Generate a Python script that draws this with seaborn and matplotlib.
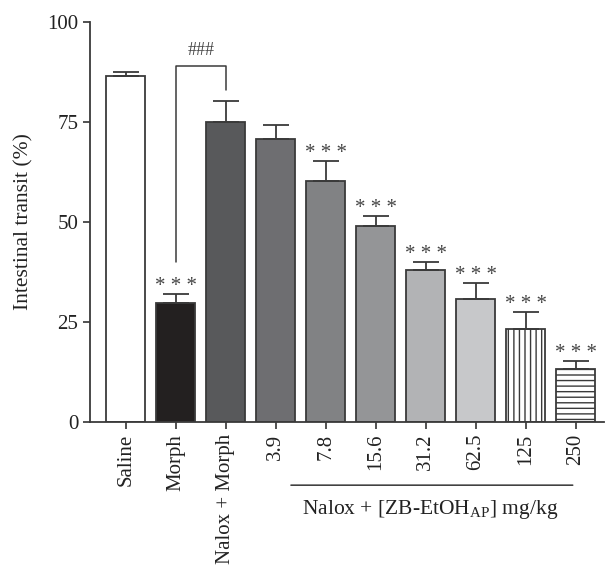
import pandas as pd
import numpy as np
import matplotlib.pyplot as plt
import seaborn as sns

sns.set_style('ticks')
plt.rcParams['font.family'] = ['Liberation Serif', 'DejaVu Serif']
plt.rcParams['hatch.linewidth'] = 1.0
plt.rcParams['mathtext.fontset'] = 'custom'
plt.rcParams['mathtext.rm'] = 'Liberation Serif'

groups = ['Saline', 'Morph', 'Nalox + Morph', '3.9', '7.8', '15.6', '31.2', '62.5', '125', '250']
transit = [86.5, 29.8, 75.1, 70.8, 60.2, 48.9, 37.9, 30.8, 23.2, 13.3]
sem = [1.1, 2.3, 5.1, 3.4, 5.0, 2.7, 2.0, 4.0, 4.2, 1.9]
stars = ['', '***', '', '', '***', '***', '***', '***', '***', '***']
colors = ['#ffffff', '#231f20', '#58595b', '#6d6e71', '#808285', '#939598',
          '#b1b3b6', '#c7c8ca', '#ffffff', '#ffffff']
hatches = [None, None, None, None, None, None, None, None, '|||', '---']

df = pd.DataFrame({'group': groups, 'transit': transit})

fig = plt.figure(figsize=(6.05, 5.71), dpi=100)
ax = fig.add_axes([0.1488, 0.261, 0.8496, 0.7005])

edge = '#3a3a3a'
sns.barplot(data=df, x='group', y='transit', hue='group', palette=colors,
            edgecolor=edge, linewidth=1.3, width=0.77, legend=False, ax=ax)
for p, h in zip(ax.patches, hatches):
    if h:
        p.set_hatch(h)

xs = np.arange(len(groups))
ax.errorbar(xs, transit, yerr=[np.zeros(len(sem)), sem], fmt='none',
            ecolor=edge, elinewidth=1.3, capsize=9.5, capthick=1.3)

for x, v, e, s in zip(xs, transit, sem, stars):
    if s:
        ax.text(x, v + e - 0.5, '* * *', ha='center', va='bottom', fontsize=15,
                color='#444444')

# ### bracket between Morph and Nalox + Morph
ax.plot([1, 1, 2, 2], [40, 89, 89, 83], color=edge, lw=1.1, clip_on=False)
ax.text(1.5, 90.8, '###', ha='center', va='bottom', fontsize=13, color='#444444')

ax.set_ylim(0, 100)
ax.set_xlim(-0.714, 9.57)
ax.set_yticks([0, 25, 50, 75, 100])
ax.set_ylabel('Intestinal transit (%)', fontsize=15.5, color='#222222', labelpad=10)
ax.set_xlabel('')
ax.tick_params(axis='x', rotation=90, labelsize=15, length=5, width=1.1, colors='#222222')
ax.tick_params(axis='y', labelsize=15, length=5, width=1.1, colors='#222222')
sns.despine(ax=ax)
for sp in ['left', 'bottom']:
    ax.spines[sp].set_linewidth(1.3)
    ax.spines[sp].set_color('#3a3a3a')

# group line and label under the doses
ax.annotate('', xy=(3.25, -0.158), xytext=(9.0, -0.158),
            xycoords=('data', 'axes fraction'),
            arrowprops=dict(arrowstyle='-', color='#333333', lw=1.1))
ax.text(6.1, -0.22, 'Nalox + [ZB-EtOH$_{\\mathrm{AP}}$] mg/kg', ha='center', va='center',
        fontsize=15.5, color='#222222', transform=ax.get_xaxis_transform())

fig.savefig('out.png', dpi=100)
